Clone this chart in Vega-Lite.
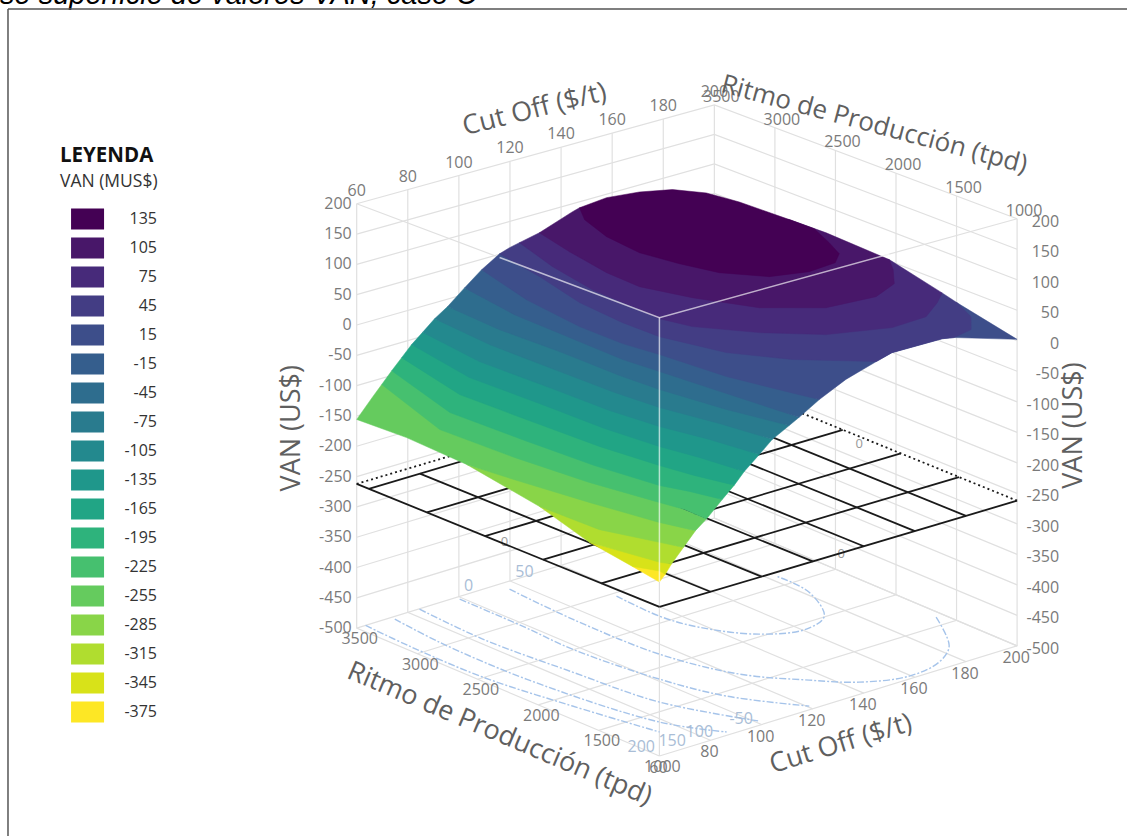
{
"$schema":"https://vega.github.io/schema/vega-lite/v6.json",
"width":1128,"height":837,"padding":0,
"autosize":{"type":"fit","contains":"padding"},
"background":"white",
"config":{"view":{"stroke":null},"text":{"font":"Open Sans"}},
"data":{"values":[
{"set":"note","cutoff":60,"ritmo":3500,"van":200},
{"set":"grid","g":"v200","o":1,"cutoff":60,"ritmo":3500,"van":200},{"set":"grid","g":"v200","o":2,"cutoff":200,"ritmo":3500,"van":200},{"set":"grid","g":"v200","o":3,"cutoff":200,"ritmo":1000,"van":200},
{"set":"grid","g":"v150","o":1,"cutoff":60,"ritmo":3500,"van":150},{"set":"grid","g":"v150","o":2,"cutoff":200,"ritmo":3500,"van":150},{"set":"grid","g":"v150","o":3,"cutoff":200,"ritmo":1000,"van":150},
{"set":"grid","g":"v100","o":1,"cutoff":60,"ritmo":3500,"van":100},{"set":"grid","g":"v100","o":2,"cutoff":200,"ritmo":3500,"van":100},{"set":"grid","g":"v100","o":3,"cutoff":200,"ritmo":1000,"van":100},
{"set":"grid","g":"v50","o":1,"cutoff":60,"ritmo":3500,"van":50},{"set":"grid","g":"v50","o":2,"cutoff":200,"ritmo":3500,"van":50},{"set":"grid","g":"v50","o":3,"cutoff":200,"ritmo":1000,"van":50},
{"set":"grid","g":"v0","o":1,"cutoff":60,"ritmo":3500,"van":0},{"set":"grid","g":"v0","o":2,"cutoff":200,"ritmo":3500,"van":0},{"set":"grid","g":"v0","o":3,"cutoff":200,"ritmo":1000,"van":0},
{"set":"grid","g":"v-50","o":1,"cutoff":60,"ritmo":3500,"van":-50},{"set":"grid","g":"v-50","o":2,"cutoff":200,"ritmo":3500,"van":-50},{"set":"grid","g":"v-50","o":3,"cutoff":200,"ritmo":1000,"van":-50},
{"set":"grid","g":"v-100","o":1,"cutoff":60,"ritmo":3500,"van":-100},{"set":"grid","g":"v-100","o":2,"cutoff":200,"ritmo":3500,"van":-100},{"set":"grid","g":"v-100","o":3,"cutoff":200,"ritmo":1000,"van":-100},
{"set":"grid","g":"v-150","o":1,"cutoff":60,"ritmo":3500,"van":-150},{"set":"grid","g":"v-150","o":2,"cutoff":200,"ritmo":3500,"van":-150},{"set":"grid","g":"v-150","o":3,"cutoff":200,"ritmo":1000,"van":-150},
{"set":"grid","g":"v-200","o":1,"cutoff":60,"ritmo":3500,"van":-200},{"set":"grid","g":"v-200","o":2,"cutoff":200,"ritmo":3500,"van":-200},{"set":"grid","g":"v-200","o":3,"cutoff":200,"ritmo":1000,"van":-200},
{"set":"grid","g":"v-250","o":1,"cutoff":60,"ritmo":3500,"van":-250},{"set":"grid","g":"v-250","o":2,"cutoff":200,"ritmo":3500,"van":-250},{"set":"grid","g":"v-250","o":3,"cutoff":200,"ritmo":1000,"van":-250},
{"set":"grid","g":"v-300","o":1,"cutoff":60,"ritmo":3500,"van":-300},{"set":"grid","g":"v-300","o":2,"cutoff":200,"ritmo":3500,"van":-300},{"set":"grid","g":"v-300","o":3,"cutoff":200,"ritmo":1000,"van":-300},
{"set":"grid","g":"v-350","o":1,"cutoff":60,"ritmo":3500,"van":-350},{"set":"grid","g":"v-350","o":2,"cutoff":200,"ritmo":3500,"van":-350},{"set":"grid","g":"v-350","o":3,"cutoff":200,"ritmo":1000,"van":-350},
{"set":"grid","g":"v-400","o":1,"cutoff":60,"ritmo":3500,"van":-400},{"set":"grid","g":"v-400","o":2,"cutoff":200,"ritmo":3500,"van":-400},{"set":"grid","g":"v-400","o":3,"cutoff":200,"ritmo":1000,"van":-400},
{"set":"grid","g":"v-450","o":1,"cutoff":60,"ritmo":3500,"van":-450},{"set":"grid","g":"v-450","o":2,"cutoff":200,"ritmo":3500,"van":-450},{"set":"grid","g":"v-450","o":3,"cutoff":200,"ritmo":1000,"van":-450},
{"set":"grid","g":"v-500","o":1,"cutoff":60,"ritmo":3500,"van":-500},{"set":"grid","g":"v-500","o":2,"cutoff":200,"ritmo":3500,"van":-500},{"set":"grid","g":"v-500","o":3,"cutoff":200,"ritmo":1000,"van":-500},
{"set":"grid","g":"c60","o":1,"cutoff":60,"ritmo":3500,"van":200},{"set":"grid","g":"c60","o":2,"cutoff":60,"ritmo":3500,"van":-500},{"set":"grid","g":"c60","o":3,"cutoff":60,"ritmo":1000,"van":-500},
{"set":"grid","g":"c80","o":1,"cutoff":80,"ritmo":3500,"van":200},{"set":"grid","g":"c80","o":2,"cutoff":80,"ritmo":3500,"van":-500},{"set":"grid","g":"c80","o":3,"cutoff":80,"ritmo":1000,"van":-500},
{"set":"grid","g":"c100","o":1,"cutoff":100,"ritmo":3500,"van":200},{"set":"grid","g":"c100","o":2,"cutoff":100,"ritmo":3500,"van":-500},{"set":"grid","g":"c100","o":3,"cutoff":100,"ritmo":1000,"van":-500},
{"set":"grid","g":"c120","o":1,"cutoff":120,"ritmo":3500,"van":200},{"set":"grid","g":"c120","o":2,"cutoff":120,"ritmo":3500,"van":-500},{"set":"grid","g":"c120","o":3,"cutoff":120,"ritmo":1000,"van":-500},
{"set":"grid","g":"c140","o":1,"cutoff":140,"ritmo":3500,"van":200},{"set":"grid","g":"c140","o":2,"cutoff":140,"ritmo":3500,"van":-500},{"set":"grid","g":"c140","o":3,"cutoff":140,"ritmo":1000,"van":-500},
{"set":"grid","g":"c160","o":1,"cutoff":160,"ritmo":3500,"van":200},{"set":"grid","g":"c160","o":2,"cutoff":160,"ritmo":3500,"van":-500},{"set":"grid","g":"c160","o":3,"cutoff":160,"ritmo":1000,"van":-500},
{"set":"grid","g":"c180","o":1,"cutoff":180,"ritmo":3500,"van":200},{"set":"grid","g":"c180","o":2,"cutoff":180,"ritmo":3500,"van":-500},{"set":"grid","g":"c180","o":3,"cutoff":180,"ritmo":1000,"van":-500},
{"set":"grid","g":"c200","o":1,"cutoff":200,"ritmo":3500,"van":200},{"set":"grid","g":"c200","o":2,"cutoff":200,"ritmo":3500,"van":-500},{"set":"grid","g":"c200","o":3,"cutoff":200,"ritmo":1000,"van":-500},
{"set":"grid","g":"r3000","o":1,"cutoff":200,"ritmo":3000,"van":200},{"set":"grid","g":"r3000","o":2,"cutoff":200,"ritmo":3000,"van":-500},{"set":"grid","g":"r3000","o":3,"cutoff":60,"ritmo":3000,"van":-500},
{"set":"grid","g":"r2500","o":1,"cutoff":200,"ritmo":2500,"van":200},{"set":"grid","g":"r2500","o":2,"cutoff":200,"ritmo":2500,"van":-500},{"set":"grid","g":"r2500","o":3,"cutoff":60,"ritmo":2500,"van":-500},
{"set":"grid","g":"r2000","o":1,"cutoff":200,"ritmo":2000,"van":200},{"set":"grid","g":"r2000","o":2,"cutoff":200,"ritmo":2000,"van":-500},{"set":"grid","g":"r2000","o":3,"cutoff":60,"ritmo":2000,"van":-500},
{"set":"grid","g":"r1500","o":1,"cutoff":200,"ritmo":1500,"van":200},{"set":"grid","g":"r1500","o":2,"cutoff":200,"ritmo":1500,"van":-500},{"set":"grid","g":"r1500","o":3,"cutoff":60,"ritmo":1500,"van":-500},
{"set":"grid","g":"r1000","o":1,"cutoff":200,"ritmo":1000,"van":200},{"set":"grid","g":"r1000","o":2,"cutoff":200,"ritmo":1000,"van":-500},{"set":"grid","g":"r1000","o":3,"cutoff":60,"ritmo":1000,"van":-500},
{"set":"grid","g":"f1","o":1,"cutoff":60,"ritmo":3500,"van":200},{"set":"grid","g":"f1","o":2,"cutoff":60,"ritmo":1000,"van":200},{"set":"grid","g":"f1","o":3,"cutoff":200,"ritmo":1000,"van":200},
{"set":"grid","g":"f2","o":1,"cutoff":60,"ritmo":1000,"van":200},{"set":"grid","g":"f2","o":2,"cutoff":60,"ritmo":1000,"van":-500},
{"set":"front","g":"a","o":1,"cutoff":60,"ritmo":2320,"van":200},{"set":"front","g":"a","o":2,"cutoff":60,"ritmo":1000,"van":200},{"set":"front","g":"a","o":3,"cutoff":150,"ritmo":1000,"van":200},
{"set":"front","g":"b","o":1,"cutoff":60,"ritmo":1000,"van":200},{"set":"front","g":"b","o":2,"cutoff":60,"ritmo":1000,"van":-222},
{"set":"blue","g":"A","o":1,"cutoff":136,"ritmo":2958,"van":-500},{"set":"blue","g":"A","o":2,"cutoff":135,"ritmo":2582,"van":-500},{"set":"blue","g":"A","o":3,"cutoff":138,"ritmo":2319,"van":-500},{"set":"blue","g":"A","o":4,"cutoff":147.9,"ritmo":2031,"van":-500},{"set":"blue","g":"A","o":5,"cutoff":161.3,"ritmo":1924,"van":-500},{"set":"blue","g":"A","o":6,"cutoff":172.3,"ritmo":2008,"van":-500},{"set":"blue","g":"A","o":7,"cutoff":181.7,"ritmo":2331,"van":-500},{"set":"blue","g":"A","o":8,"cutoff":182.9,"ritmo":2627,"van":-500},
{"set":"blue","g":"B","o":1,"cutoff":115.5,"ritmo":3409,"van":-500},{"set":"blue","g":"B","o":2,"cutoff":113.7,"ritmo":2851,"van":-500},{"set":"blue","g":"B","o":3,"cutoff":114.6,"ritmo":2153,"van":-500},{"set":"blue","g":"B","o":4,"cutoff":122,"ritmo":1649,"van":-500},{"set":"blue","g":"B","o":5,"cutoff":134.6,"ritmo":1337,"van":-500},{"set":"blue","g":"B","o":6,"cutoff":144.8,"ritmo":1140,"van":-500},{"set":"blue","g":"B","o":7,"cutoff":159.4,"ritmo":1034,"van":-500},{"set":"blue","g":"B","o":8,"cutoff":173.6,"ritmo":1088,"van":-500},{"set":"blue","g":"B","o":9,"cutoff":184.5,"ritmo":1234,"van":-500},{"set":"blue","g":"B","o":10,"cutoff":197.1,"ritmo":1608,"van":-500},
{"set":"blue","g":"C","o":1,"cutoff":98.9,"ritmo":3470,"van":-500},{"set":"blue","g":"C","o":2,"cutoff":98.6,"ritmo":2945,"van":-500},{"set":"blue","g":"C","o":3,"cutoff":97.6,"ritmo":2512,"van":-500},{"set":"blue","g":"C","o":4,"cutoff":101.2,"ritmo":1870,"van":-500},{"set":"blue","g":"C","o":5,"cutoff":107.3,"ritmo":1445,"van":-500},{"set":"blue","g":"C","o":6,"cutoff":120.7,"ritmo":1043,"van":-500},
{"set":"blue","g":"D","o":1,"cutoff":84.4,"ritmo":3496,"van":-500},{"set":"blue","g":"D","o":2,"cutoff":82.7,"ritmo":2938,"van":-500},{"set":"blue","g":"D","o":3,"cutoff":85.3,"ritmo":2252,"van":-500},{"set":"blue","g":"D","o":4,"cutoff":88.9,"ritmo":1610,"van":-500},{"set":"blue","g":"D","o":5,"cutoff":101.3,"ritmo":1048,"van":-500},
{"set":"blue","g":"E","o":1,"cutoff":73.5,"ritmo":3470,"van":-500},{"set":"blue","g":"E","o":2,"cutoff":71.2,"ritmo":3053,"van":-500},{"set":"blue","g":"E","o":3,"cutoff":71.1,"ritmo":2333,"van":-500},{"set":"blue","g":"E","o":4,"cutoff":78.2,"ritmo":1384,"van":-500},{"set":"blue","g":"E","o":5,"cutoff":88.1,"ritmo":1038,"van":-500},
{"set":"blue","g":"F","o":1,"cutoff":63.5,"ritmo":3500,"van":-500},{"set":"blue","g":"F","o":2,"cutoff":62.3,"ritmo":3113,"van":-500},{"set":"blue","g":"F","o":3,"cutoff":62.3,"ritmo":2509,"van":-500},{"set":"blue","g":"F","o":4,"cutoff":67.1,"ritmo":1868,"van":-500},{"set":"blue","g":"F","o":5,"cutoff":72.9,"ritmo":1271,"van":-500},
{"set":"black","g":"r1000","o":1,"cutoff":60,"ritmo":1000,"van":-262},{"set":"black","g":"r1000","o":2,"cutoff":200,"ritmo":1000,"van":-262},
{"set":"black","g":"r1480","o":1,"cutoff":60,"ritmo":1480,"van":-262},{"set":"black","g":"r1480","o":2,"cutoff":200,"ritmo":1480,"van":-262},
{"set":"black","g":"r1960","o":1,"cutoff":60,"ritmo":1960,"van":-262},{"set":"black","g":"r1960","o":2,"cutoff":200,"ritmo":1960,"van":-262},
{"set":"black","g":"r2440","o":1,"cutoff":60,"ritmo":2440,"van":-262},{"set":"black","g":"r2440","o":2,"cutoff":200,"ritmo":2440,"van":-262},
{"set":"black","g":"r2920","o":1,"cutoff":60,"ritmo":2920,"van":-262},{"set":"black","g":"r2920","o":2,"cutoff":200,"ritmo":2920,"van":-262},
{"set":"black","g":"r3400","o":1,"cutoff":60,"ritmo":3400,"van":-262},{"set":"black","g":"r3400","o":2,"cutoff":200,"ritmo":3400,"van":-262},
{"set":"black","g":"c60","o":1,"cutoff":60,"ritmo":1000,"van":-262},{"set":"black","g":"c60","o":2,"cutoff":60,"ritmo":3500,"van":-262},
{"set":"black","g":"c80","o":1,"cutoff":80,"ritmo":1000,"van":-262},{"set":"black","g":"c80","o":2,"cutoff":80,"ritmo":3400,"van":-262},
{"set":"black","g":"c100","o":1,"cutoff":100,"ritmo":1000,"van":-262},{"set":"black","g":"c100","o":2,"cutoff":100,"ritmo":3400,"van":-262},
{"set":"black","g":"c120","o":1,"cutoff":120,"ritmo":1000,"van":-262},{"set":"black","g":"c120","o":2,"cutoff":120,"ritmo":3400,"van":-262},
{"set":"black","g":"c140","o":1,"cutoff":140,"ritmo":1000,"van":-262},{"set":"black","g":"c140","o":2,"cutoff":140,"ritmo":3400,"van":-262},
{"set":"black","g":"c160","o":1,"cutoff":160,"ritmo":1000,"van":-262},{"set":"black","g":"c160","o":2,"cutoff":160,"ritmo":3400,"van":-262},
{"set":"black","g":"c180","o":1,"cutoff":180,"ritmo":1000,"van":-262},{"set":"black","g":"c180","o":2,"cutoff":180,"ritmo":3400,"van":-262},
{"set":"dotted","g":"c200","o":1,"cutoff":200,"ritmo":1000,"van":-262},{"set":"dotted","g":"c200","o":2,"cutoff":200,"ritmo":3500,"van":-262},
{"set":"dotted","g":"r3500","o":1,"cutoff":60,"ritmo":3500,"van":-262},{"set":"dotted","g":"r3500","o":2,"cutoff":200,"ritmo":3500,"van":-262},
{"set":"surf","g":-375,"o":1,"cutoff":60,"ritmo":1223,"van":-225},{"set":"surf","g":-375,"o":2,"cutoff":60,"ritmo":1077,"van":-194},{"set":"surf","g":-375,"o":3,"cutoff":62.3,"ritmo":1000,"van":-224},{"set":"surf","g":-375,"o":4,"cutoff":60,"ritmo":1000,"van":-234},
{"set":"surf","g":-345,"o":1,"cutoff":60,"ritmo":1578,"van":-212},{"set":"surf","g":-345,"o":2,"cutoff":64.7,"ritmo":1000,"van":-210},{"set":"surf","g":-345,"o":3,"cutoff":62.3,"ritmo":1000,"van":-224},{"set":"surf","g":-345,"o":4,"cutoff":61.9,"ritmo":1040,"van":-221},{"set":"surf","g":-345,"o":5,"cutoff":60,"ritmo":1223,"van":-225},
{"set":"surf","g":-315,"o":1,"cutoff":60,"ritmo":1990,"van":-184},{"set":"surf","g":-315,"o":2,"cutoff":69.4,"ritmo":1000,"van":-188},{"set":"surf","g":-315,"o":3,"cutoff":64.7,"ritmo":1000,"van":-210},{"set":"surf","g":-315,"o":4,"cutoff":62.4,"ritmo":1050,"van":-208},{"set":"surf","g":-315,"o":5,"cutoff":60,"ritmo":1578,"van":-212},
{"set":"surf","g":-285,"o":1,"cutoff":60,"ritmo":2592,"van":-160},{"set":"surf","g":-285,"o":2,"cutoff":74.1,"ritmo":1000,"van":-166},{"set":"surf","g":-285,"o":3,"cutoff":69.4,"ritmo":1000,"van":-188},{"set":"surf","g":-285,"o":4,"cutoff":61.9,"ritmo":1039,"van":-174},{"set":"surf","g":-285,"o":5,"cutoff":60,"ritmo":1495,"van":-185},{"set":"surf","g":-285,"o":6,"cutoff":60,"ritmo":1990,"van":-184},
{"set":"surf","g":-255,"o":1,"cutoff":60,"ritmo":3500,"van":-154},{"set":"surf","g":-255,"o":2,"cutoff":66.3,"ritmo":3500,"van":-124},{"set":"surf","g":-255,"o":3,"cutoff":69.8,"ritmo":3500,"van":-108},{"set":"surf","g":-255,"o":4,"cutoff":78.4,"ritmo":1000,"van":-152},{"set":"surf","g":-255,"o":5,"cutoff":74.1,"ritmo":1000,"van":-166},{"set":"surf","g":-255,"o":6,"cutoff":66.5,"ritmo":1138,"van":-154},{"set":"surf","g":-255,"o":7,"cutoff":62.7,"ritmo":1636,"van":-154},{"set":"surf","g":-255,"o":8,"cutoff":60,"ritmo":2155,"van":-155},{"set":"surf","g":-255,"o":9,"cutoff":60,"ritmo":2592,"van":-160},{"set":"surf","g":-255,"o":10,"cutoff":60,"ritmo":3088,"van":-153},
{"set":"surf","g":-225,"o":1,"cutoff":69.8,"ritmo":3500,"van":-108},{"set":"surf","g":-225,"o":2,"cutoff":73.7,"ritmo":3500,"van":-90},{"set":"surf","g":-225,"o":3,"cutoff":84.6,"ritmo":1000,"van":-127},{"set":"surf","g":-225,"o":4,"cutoff":78.4,"ritmo":1000,"van":-152},{"set":"surf","g":-225,"o":5,"cutoff":72.3,"ritmo":1053,"van":-133},{"set":"surf","g":-225,"o":6,"cutoff":70.8,"ritmo":1229,"van":-133},{"set":"surf","g":-225,"o":7,"cutoff":67,"ritmo":1727,"van":-133},{"set":"surf","g":-225,"o":8,"cutoff":65.1,"ritmo":2305,"van":-133},{"set":"surf","g":-225,"o":9,"cutoff":65,"ritmo":2920,"van":-133},
{"set":"surf","g":-195,"o":1,"cutoff":73.7,"ritmo":3500,"van":-90},{"set":"surf","g":-195,"o":2,"cutoff":77.6,"ritmo":3500,"van":-73},{"set":"surf","g":-195,"o":3,"cutoff":89.3,"ritmo":1000,"van":-109},{"set":"surf","g":-195,"o":4,"cutoff":84.6,"ritmo":1000,"van":-127},{"set":"surf","g":-195,"o":5,"cutoff":76.9,"ritmo":1109,"van":-113},{"set":"surf","g":-195,"o":6,"cutoff":73.7,"ritmo":1289,"van":-113},{"set":"surf","g":-195,"o":7,"cutoff":71,"ritmo":1769,"van":-113},{"set":"surf","g":-195,"o":8,"cutoff":70.3,"ritmo":2330,"van":-113},{"set":"surf","g":-195,"o":9,"cutoff":70.2,"ritmo":2946,"van":-113},
{"set":"surf","g":-165,"o":1,"cutoff":77.6,"ritmo":3500,"van":-73},{"set":"surf","g":-165,"o":2,"cutoff":81.5,"ritmo":3500,"van":-56},{"set":"surf","g":-165,"o":3,"cutoff":93.2,"ritmo":1000,"van":-91},{"set":"surf","g":-165,"o":4,"cutoff":89.3,"ritmo":1000,"van":-109},{"set":"surf","g":-165,"o":5,"cutoff":79.9,"ritmo":1132,"van":-92},{"set":"surf","g":-165,"o":6,"cutoff":78,"ritmo":1380,"van":-92},{"set":"surf","g":-165,"o":7,"cutoff":75.9,"ritmo":1831,"van":-92},{"set":"surf","g":-165,"o":8,"cutoff":75.6,"ritmo":2361,"van":-92},{"set":"surf","g":-165,"o":9,"cutoff":75.5,"ritmo":2977,"van":-92},
{"set":"surf","g":-135,"o":1,"cutoff":81.5,"ritmo":3500,"van":-56},{"set":"surf","g":-135,"o":2,"cutoff":85.8,"ritmo":3500,"van":-41},{"set":"surf","g":-135,"o":3,"cutoff":99.1,"ritmo":1000,"van":-70},{"set":"surf","g":-135,"o":4,"cutoff":93.2,"ritmo":1000,"van":-91},{"set":"surf","g":-135,"o":5,"cutoff":84.5,"ritmo":1187,"van":-72},{"set":"surf","g":-135,"o":6,"cutoff":82.1,"ritmo":1466,"van":-72},{"set":"surf","g":-135,"o":7,"cutoff":80.5,"ritmo":1886,"van":-72},{"set":"surf","g":-135,"o":8,"cutoff":80.8,"ritmo":2387,"van":-72},{"set":"surf","g":-135,"o":9,"cutoff":80.6,"ritmo":3003,"van":-72},
{"set":"surf","g":-105,"o":1,"cutoff":85.8,"ritmo":3500,"van":-41},{"set":"surf","g":-105,"o":2,"cutoff":90.5,"ritmo":3500,"van":-24},{"set":"surf","g":-105,"o":3,"cutoff":104.2,"ritmo":1000,"van":-51},{"set":"surf","g":-105,"o":4,"cutoff":99.1,"ritmo":1000,"van":-70},{"set":"surf","g":-105,"o":5,"cutoff":90.3,"ritmo":1226,"van":-52},{"set":"surf","g":-105,"o":6,"cutoff":86.8,"ritmo":1565,"van":-52},{"set":"surf","g":-105,"o":7,"cutoff":85.1,"ritmo":1942,"van":-52},{"set":"surf","g":-105,"o":8,"cutoff":85.3,"ritmo":2442,"van":-52},{"set":"surf","g":-105,"o":9,"cutoff":85.1,"ritmo":3016,"van":-52},
{"set":"surf","g":-75,"o":1,"cutoff":90.5,"ritmo":3500,"van":-24},{"set":"surf","g":-75,"o":2,"cutoff":95.6,"ritmo":3500,"van":-10},{"set":"surf","g":-75,"o":3,"cutoff":110.8,"ritmo":1000,"van":-36},{"set":"surf","g":-75,"o":4,"cutoff":104.2,"ritmo":1000,"van":-51},{"set":"surf","g":-75,"o":5,"cutoff":94.4,"ritmo":1231,"van":-31},{"set":"surf","g":-75,"o":6,"cutoff":90.5,"ritmo":1643,"van":-31},{"set":"surf","g":-75,"o":7,"cutoff":89.4,"ritmo":1990,"van":-31},{"set":"surf","g":-75,"o":8,"cutoff":89.6,"ritmo":2491,"van":-31},{"set":"surf","g":-75,"o":9,"cutoff":89.9,"ritmo":3034,"van":-31},
{"set":"surf","g":-45,"o":1,"cutoff":95.6,"ritmo":3500,"van":-10},{"set":"surf","g":-45,"o":2,"cutoff":102.2,"ritmo":3500,"van":13},{"set":"surf","g":-45,"o":3,"cutoff":114.7,"ritmo":1000,"van":-27},{"set":"surf","g":-45,"o":4,"cutoff":110.8,"ritmo":1000,"van":-36},{"set":"surf","g":-45,"o":5,"cutoff":97.1,"ritmo":1230,"van":-11},{"set":"surf","g":-45,"o":6,"cutoff":94,"ritmo":1717,"van":-11},{"set":"surf","g":-45,"o":7,"cutoff":93.4,"ritmo":2034,"van":-11},{"set":"surf","g":-45,"o":8,"cutoff":94.2,"ritmo":2547,"van":-11},{"set":"surf","g":-45,"o":9,"cutoff":93.8,"ritmo":3034,"van":-11},
{"set":"surf","g":-15,"o":1,"cutoff":102.2,"ritmo":3500,"van":13},{"set":"surf","g":-15,"o":2,"cutoff":108.9,"ritmo":3500,"van":35},{"set":"surf","g":-15,"o":3,"cutoff":122.6,"ritmo":1000,"van":-7},{"set":"surf","g":-15,"o":4,"cutoff":114.7,"ritmo":1000,"van":-27},{"set":"surf","g":-15,"o":5,"cutoff":99,"ritmo":1270,"van":10},{"set":"surf","g":-15,"o":6,"cutoff":97.1,"ritmo":1782,"van":10},{"set":"surf","g":-15,"o":7,"cutoff":96,"ritmo":2063,"van":10},{"set":"surf","g":-15,"o":8,"cutoff":97.2,"ritmo":2527,"van":10},{"set":"surf","g":-15,"o":9,"cutoff":98.5,"ritmo":3010,"van":10},
{"set":"surf","g":15,"o":1,"cutoff":108.9,"ritmo":3500,"van":35},{"set":"surf","g":15,"o":2,"cutoff":115.9,"ritmo":3500,"van":53},{"set":"surf","g":15,"o":3,"cutoff":200,"ritmo":1495,"van":25},{"set":"surf","g":15,"o":4,"cutoff":200,"ritmo":1000,"van":2},{"set":"surf","g":15,"o":5,"cutoff":175.4,"ritmo":1000,"van":33.5},{"set":"surf","g":15,"o":6,"cutoff":170.7,"ritmo":1000,"van":37},{"set":"surf","g":15,"o":7,"cutoff":151,"ritmo":1000,"van":37},{"set":"surf","g":15,"o":8,"cutoff":144.9,"ritmo":1000,"van":29.5},{"set":"surf","g":15,"o":9,"cutoff":133,"ritmo":1000,"van":14},{"set":"surf","g":15,"o":10,"cutoff":122.6,"ritmo":1000,"van":-7},{"set":"surf","g":15,"o":11,"cutoff":116.7,"ritmo":1100,"van":3},{"set":"surf","g":15,"o":12,"cutoff":101.9,"ritmo":1331,"van":30},{"set":"surf","g":15,"o":13,"cutoff":100,"ritmo":1843,"van":30},{"set":"surf","g":15,"o":14,"cutoff":98.2,"ritmo":2111,"van":30},{"set":"surf","g":15,"o":15,"cutoff":98.7,"ritmo":2477,"van":30},{"set":"surf","g":15,"o":16,"cutoff":102.9,"ritmo":3003,"van":30},
{"set":"surf","g":45,"o":1,"cutoff":115.9,"ritmo":3500,"van":53},{"set":"surf","g":45,"o":2,"cutoff":119.8,"ritmo":3500,"van":58.5},{"set":"surf","g":45,"o":3,"cutoff":123.7,"ritmo":3500,"van":62.3},{"set":"surf","g":45,"o":4,"cutoff":200,"ritmo":1619,"van":32},{"set":"surf","g":45,"o":5,"cutoff":200,"ritmo":1495,"van":25},{"set":"surf","g":45,"o":6,"cutoff":185.7,"ritmo":1079,"van":50},{"set":"surf","g":45,"o":7,"cutoff":182,"ritmo":1000,"van":39},{"set":"surf","g":45,"o":8,"cutoff":175.4,"ritmo":1000,"van":33.5},{"set":"surf","g":45,"o":9,"cutoff":170.7,"ritmo":1000,"van":37},{"set":"surf","g":45,"o":10,"cutoff":151,"ritmo":1000,"van":37},{"set":"surf","g":45,"o":11,"cutoff":144.9,"ritmo":1000,"van":29.5},{"set":"surf","g":45,"o":12,"cutoff":119.7,"ritmo":1161,"van":50},{"set":"surf","g":45,"o":13,"cutoff":108.9,"ritmo":1480,"van":50},{"set":"surf","g":45,"o":14,"cutoff":103.4,"ritmo":1916,"van":50},{"set":"surf","g":45,"o":15,"cutoff":103.5,"ritmo":2222,"van":50},{"set":"surf","g":45,"o":16,"cutoff":105.8,"ritmo":2626,"van":50},{"set":"surf","g":45,"o":17,"cutoff":112.4,"ritmo":3094,"van":50},
{"set":"surf","g":75,"o":1,"cutoff":123.7,"ritmo":3500,"van":62.3},{"set":"surf","g":75,"o":2,"cutoff":131.5,"ritmo":3500,"van":69.5},{"set":"surf","g":75,"o":3,"cutoff":200,"ritmo":2056,"van":54},{"set":"surf","g":75,"o":4,"cutoff":200,"ritmo":1619,"van":32},{"set":"surf","g":75,"o":5,"cutoff":178.8,"ritmo":1212,"van":71},{"set":"surf","g":75,"o":6,"cutoff":167.9,"ritmo":1074,"van":71},{"set":"surf","g":75,"o":7,"cutoff":153.7,"ritmo":1054,"van":71},{"set":"surf","g":75,"o":8,"cutoff":134.6,"ritmo":1196,"van":71},{"set":"surf","g":75,"o":9,"cutoff":120.7,"ritmo":1455,"van":71},{"set":"surf","g":75,"o":10,"cutoff":109.2,"ritmo":1766,"van":71},{"set":"surf","g":75,"o":11,"cutoff":106.5,"ritmo":1982,"van":71},{"set":"surf","g":75,"o":12,"cutoff":107.6,"ritmo":2228,"van":71},{"set":"surf","g":75,"o":13,"cutoff":108.8,"ritmo":2583,"van":71},{"set":"surf","g":75,"o":14,"cutoff":113.6,"ritmo":3013,"van":71},
{"set":"surf","g":105,"o":1,"cutoff":131.5,"ritmo":3500,"van":69.5},{"set":"surf","g":105,"o":2,"cutoff":144.5,"ritmo":3500,"van":89},{"set":"surf","g":105,"o":3,"cutoff":147.2,"ritmo":3500,"van":92.3},{"set":"surf","g":105,"o":4,"cutoff":200,"ritmo":2881,"van":58},{"set":"surf","g":105,"o":5,"cutoff":200,"ritmo":2576,"van":59},{"set":"surf","g":105,"o":6,"cutoff":200,"ritmo":2056,"van":54},{"set":"surf","g":105,"o":7,"cutoff":181.3,"ritmo":1629,"van":91},{"set":"surf","g":105,"o":8,"cutoff":173.2,"ritmo":1449,"van":91},{"set":"surf","g":105,"o":9,"cutoff":161.3,"ritmo":1348,"van":91},{"set":"surf","g":105,"o":10,"cutoff":143.4,"ritmo":1383,"van":91},{"set":"surf","g":105,"o":11,"cutoff":128.3,"ritmo":1617,"van":91},{"set":"surf","g":105,"o":12,"cutoff":119.2,"ritmo":1978,"van":91},{"set":"surf","g":105,"o":13,"cutoff":113.9,"ritmo":2302,"van":91},{"set":"surf","g":105,"o":14,"cutoff":114.9,"ritmo":2594,"van":91},{"set":"surf","g":105,"o":15,"cutoff":119.1,"ritmo":2990,"van":91},
{"set":"surf","g":135,"o":1,"cutoff":147.2,"ritmo":3500,"van":92.3},{"set":"surf","g":135,"o":2,"cutoff":157.8,"ritmo":3500,"van":96.6},{"set":"surf","g":135,"o":3,"cutoff":170.7,"ritmo":3500,"van":91},{"set":"surf","g":135,"o":4,"cutoff":183.6,"ritmo":3500,"van":80},{"set":"surf","g":135,"o":5,"cutoff":196.9,"ritmo":3500,"van":59},{"set":"surf","g":135,"o":6,"cutoff":200,"ritmo":3294,"van":56},{"set":"surf","g":135,"o":7,"cutoff":200,"ritmo":2881,"van":58},{"set":"surf","g":135,"o":8,"cutoff":180.4,"ritmo":2262,"van":112},{"set":"surf","g":135,"o":9,"cutoff":175.4,"ritmo":2033,"van":112},{"set":"surf","g":135,"o":10,"cutoff":171.1,"ritmo":1859,"van":112},{"set":"surf","g":135,"o":11,"cutoff":164.8,"ritmo":1759,"van":112},{"set":"surf","g":135,"o":12,"cutoff":153.5,"ritmo":1736,"van":112},{"set":"surf","g":135,"o":13,"cutoff":141.5,"ritmo":1813,"van":112},{"set":"surf","g":135,"o":14,"cutoff":132.6,"ritmo":2038,"van":112},{"set":"surf","g":135,"o":15,"cutoff":129,"ritmo":2291,"van":112},{"set":"surf","g":135,"o":16,"cutoff":126.6,"ritmo":2570,"van":112},{"set":"surf","g":135,"o":17,"cutoff":128.8,"ritmo":2888,"van":112},{"set":"surf","g":135,"o":18,"cutoff":134,"ritmo":3179,"van":112},
{"set":"vanL","label":"200","cutoff":60,"ritmo":3500,"van":200},{"set":"vanL","label":"150","cutoff":60,"ritmo":3500,"van":150},{"set":"vanL","label":"100","cutoff":60,"ritmo":3500,"van":100},{"set":"vanL","label":"50","cutoff":60,"ritmo":3500,"van":50},{"set":"vanL","label":"0","cutoff":60,"ritmo":3500,"van":0},{"set":"vanL","label":"-50","cutoff":60,"ritmo":3500,"van":-50},{"set":"vanL","label":"-100","cutoff":60,"ritmo":3500,"van":-100},{"set":"vanL","label":"-150","cutoff":60,"ritmo":3500,"van":-150},{"set":"vanL","label":"-200","cutoff":60,"ritmo":3500,"van":-200},{"set":"vanL","label":"-250","cutoff":60,"ritmo":3500,"van":-250},{"set":"vanL","label":"-300","cutoff":60,"ritmo":3500,"van":-300},{"set":"vanL","label":"-350","cutoff":60,"ritmo":3500,"van":-350},{"set":"vanL","label":"-400","cutoff":60,"ritmo":3500,"van":-400},{"set":"vanL","label":"-450","cutoff":60,"ritmo":3500,"van":-450},{"set":"vanL","label":"-500","cutoff":60,"ritmo":3500,"van":-500},
{"set":"vanR","label":"200","cutoff":200,"ritmo":1000,"van":200},{"set":"vanR","label":"150","cutoff":200,"ritmo":1000,"van":150},{"set":"vanR","label":"100","cutoff":200,"ritmo":1000,"van":100},{"set":"vanR","label":"50","cutoff":200,"ritmo":1000,"van":50},{"set":"vanR","label":"0","cutoff":200,"ritmo":1000,"van":0},{"set":"vanR","label":"-50","cutoff":200,"ritmo":1000,"van":-50},{"set":"vanR","label":"-100","cutoff":200,"ritmo":1000,"van":-100},{"set":"vanR","label":"-150","cutoff":200,"ritmo":1000,"van":-150},{"set":"vanR","label":"-200","cutoff":200,"ritmo":1000,"van":-200},{"set":"vanR","label":"-250","cutoff":200,"ritmo":1000,"van":-250},{"set":"vanR","label":"-300","cutoff":200,"ritmo":1000,"van":-300},{"set":"vanR","label":"-350","cutoff":200,"ritmo":1000,"van":-350},{"set":"vanR","label":"-400","cutoff":200,"ritmo":1000,"van":-400},{"set":"vanR","label":"-450","cutoff":200,"ritmo":1000,"van":-450},{"set":"vanR","label":"-500","cutoff":200,"ritmo":1000,"van":-500},
{"set":"cutT","label":"60","cutoff":60,"ritmo":3500,"van":200},{"set":"cutT","label":"80","cutoff":80,"ritmo":3500,"van":200},{"set":"cutT","label":"100","cutoff":100,"ritmo":3500,"van":200},{"set":"cutT","label":"120","cutoff":120,"ritmo":3500,"van":200},{"set":"cutT","label":"140","cutoff":140,"ritmo":3500,"van":200},{"set":"cutT","label":"160","cutoff":160,"ritmo":3500,"van":200},{"set":"cutT","label":"180","cutoff":180,"ritmo":3500,"van":200},{"set":"cutT","label":"200","cutoff":200,"ritmo":3500,"van":200},
{"set":"ritT","label":"3500","cutoff":200,"ritmo":3500,"van":200},{"set":"ritT","label":"3000","cutoff":200,"ritmo":3000,"van":200},{"set":"ritT","label":"2500","cutoff":200,"ritmo":2500,"van":200},{"set":"ritT","label":"2000","cutoff":200,"ritmo":2000,"van":200},{"set":"ritT","label":"1500","cutoff":200,"ritmo":1500,"van":200},{"set":"ritT","label":"1000","cutoff":200,"ritmo":1000,"van":200},
{"set":"cutB","label":"60","cutoff":60,"ritmo":1000,"van":-500},{"set":"cutB","label":"80","cutoff":80,"ritmo":1000,"van":-500},{"set":"cutB","label":"100","cutoff":100,"ritmo":1000,"van":-500},{"set":"cutB","label":"120","cutoff":120,"ritmo":1000,"van":-500},{"set":"cutB","label":"140","cutoff":140,"ritmo":1000,"van":-500},{"set":"cutB","label":"160","cutoff":160,"ritmo":1000,"van":-500},{"set":"cutB","label":"180","cutoff":180,"ritmo":1000,"van":-500},{"set":"cutB","label":"200","cutoff":200,"ritmo":1000,"van":-500},
{"set":"ritB","label":"3500","cutoff":60,"ritmo":3500,"van":-500},{"set":"ritB","label":"3000","cutoff":60,"ritmo":3000,"van":-500},{"set":"ritB","label":"2500","cutoff":60,"ritmo":2500,"van":-500},{"set":"ritB","label":"2000","cutoff":60,"ritmo":2000,"van":-500},{"set":"ritB","label":"1500","cutoff":60,"ritmo":1500,"van":-500},{"set":"ritB","label":"1000","cutoff":60,"ritmo":1000,"van":-500},
{"set":"blueL","label":"0","cutoff":107.8,"ritmo":3585,"van":-500},{"set":"blueL","label":"50","cutoff":128,"ritmo":3549,"van":-500},{"set":"blueL","label":"200","cutoff":60.7,"ritmo":1165,"van":-500},{"set":"blueL","label":"150","cutoff":70.9,"ritmo":1125,"van":-500},{"set":"blueL","label":"100","cutoff":81.9,"ritmo":1132,"van":-500},{"set":"blueL","label":"-50","cutoff":98.3,"ritmo":1133,"van":-500},
{"set":"gray0","label":"0","cutoff":60.9,"ritmo":2298,"van":-262},{"set":"gray0","label":"0","cutoff":195.6,"ritmo":2210,"van":-262},{"set":"gray0","label":"0","cutoff":130.4,"ritmo":984,"van":-262},
{"set":"tCutT","label":"Cut Off ($/t)","cutoff":129.6,"ritmo":3500,"van":275},
{"set":"tRitT","label":"Ritmo de Producción (tpd)","cutoff":200,"ritmo":2180,"van":267},
{"set":"tCutB","label":"Cut Off ($/t)","cutoff":131,"ritmo":1000,"van":-571},
{"set":"tRitB","label":"Ritmo de Producción (tpd)","cutoff":60,"ritmo":2320,"van":-574},
{"set":"tVan","label":"VAN (US$)","cutoff":34.6,"ritmo":3500,"van":-139},
{"set":"tVan","label":"VAN (US$)","cutoff":200,"ritmo":530,"van":-102}
]},
"transform":[
{"calculate":"(datum.ritmo-1000)/2500","as":"rn"},
{"calculate":"(datum.cutoff-60)/140","as":"cn"},
{"calculate":"datum.set=='surf'?0.61:(0.627-0.02*datum.rn-0.016*datum.cn)","as":"k"},
{"calculate":"660-303*datum.rn+358*datum.cn","as":"px"},
{"calculate":"318+(200-datum.van)*datum.k-114*datum.rn-99*datum.cn","as":"py"}
],
"encoding":{
"x":{"field":"px","type":"quantitative","scale":{"domain":[0,1128],"nice":false,"zero":false},"axis":null},
"y":{"field":"py","type":"quantitative","scale":{"domain":[0,837],"nice":false,"zero":false,"reverse":true},"axis":null}
},
"layer":[
{"transform":[{"filter":"datum.set=='grid'"}],"mark":{"type":"line","stroke":"#e0e0e0","strokeWidth":1.2},"encoding":{"detail":{"field":"g"},"order":{"field":"o","type":"quantitative"}}},
{"transform":[{"filter":"datum.set=='blue'"}],"mark":{"type":"line","stroke":"#a6c4ea","strokeWidth":1.4,"strokeDash":[7,2,2,2],"interpolate":"catmull-rom"},"encoding":{"detail":{"field":"g"},"order":{"field":"o","type":"quantitative"}}},
{"transform":[{"filter":"datum.set=='blueL'"}],"mark":{"type":"text","color":"#a9bdd6","fontSize":16},"encoding":{"text":{"field":"label"}}},
{"transform":[{"filter":"datum.set=='gray0'"}],"mark":{"type":"text","color":"#999999","fontSize":13},"encoding":{"text":{"field":"label"}}},
{"transform":[{"filter":"datum.set=='black'"}],"mark":{"type":"line","stroke":"#1a1a1a","strokeWidth":1.8},"encoding":{"detail":{"field":"g"},"order":{"field":"o","type":"quantitative"}}},
{"transform":[{"filter":"datum.set=='dotted'"}],"mark":{"type":"line","stroke":"#1a1a1a","strokeWidth":1.8,"strokeDash":[2,3]},"encoding":{"detail":{"field":"g"},"order":{"field":"o","type":"quantitative"}}},
{"transform":[{"filter":"datum.set=='surf'"}],"mark":{"type":"line","interpolate":"linear-closed","strokeWidth":0.5},
"encoding":{
"order":{"field":"o","type":"quantitative"},
"fill":{"field":"g","type":"ordinal","scale":{"domain":[135,105,75,45,15,-15,-45,-75,-105,-135,-165,-195,-225,-255,-285,-315,-345,-375],"range":["#440154","#481769","#472a7a","#433d84","#3d4e8a","#355e8d","#2e6d8e","#297b8e","#23898e","#1f978b","#21a585","#2eb37c","#46c06f","#65cb5e","#89d548","#b0dd2f","#d8e219","#fde725"]},
"legend":{"orient":"none","legendX":60,"legendY":146,"title":"LEYENDA","titleFont":"Open Sans","titleFontSize":20.5,"titleFontWeight":"bold","titleColor":"#111111","titlePadding":38,"symbolType":"M-0.33,-0.64H1.67V0.64H-0.33Z","symbolSize":1089,"symbolStrokeWidth":0,"rowPadding":-4,"labelFont":"Open Sans","labelFontSize":16,"labelColor":"#333333","labelAlign":"right","labelOffset":64,"clipHeight":29}},
"stroke":{"field":"g","type":"ordinal","scale":{"domain":[135,105,75,45,15,-15,-45,-75,-105,-135,-165,-195,-225,-255,-285,-315,-345,-375],"range":["#440154","#481769","#472a7a","#433d84","#3d4e8a","#355e8d","#2e6d8e","#297b8e","#23898e","#1f978b","#21a585","#2eb37c","#46c06f","#65cb5e","#89d548","#b0dd2f","#d8e219","#fde725"]},"legend":null}
}},
{"transform":[{"filter":"datum.set=='front'"}],"mark":{"type":"line","stroke":"#ffffff","strokeOpacity":0.65,"strokeWidth":1.5},"encoding":{"detail":{"field":"g"},"order":{"field":"o","type":"quantitative"}}},
{"transform":[{"filter":"datum.set=='vanL'"}],"mark":{"type":"text","color":"#7a7a7a","fontSize":16,"align":"right","dx":-5},"encoding":{"text":{"field":"label"}}},
{"transform":[{"filter":"datum.set=='vanR'"}],"mark":{"type":"text","color":"#7a7a7a","fontSize":16,"align":"right","dx":42,"dy":3},"encoding":{"text":{"field":"label"}}},
{"transform":[{"filter":"datum.set=='cutT'"}],"mark":{"type":"text","color":"#7a7a7a","fontSize":16,"dy":-13},"encoding":{"text":{"field":"label"}}},
{"transform":[{"filter":"datum.set=='ritT'"}],"mark":{"type":"text","color":"#7a7a7a","fontSize":16,"dx":7,"dy":-8},"encoding":{"text":{"field":"label"}}},
{"transform":[{"filter":"datum.set=='cutB'"}],"mark":{"type":"text","color":"#7a7a7a","fontSize":16,"dx":-1,"dy":12},"encoding":{"text":{"field":"label"}}},
{"transform":[{"filter":"datum.set=='ritB'"}],"mark":{"type":"text","color":"#7a7a7a","fontSize":16,"dx":3,"dy":11},"encoding":{"text":{"field":"label"}}},
{"transform":[{"filter":"datum.set=='tCutT'"}],"mark":{"type":"text","color":"#5f5f5f","fontSize":27,"angle":346},"encoding":{"text":{"field":"label"}}},
{"transform":[{"filter":"datum.set=='tRitT'"}],"mark":{"type":"text","color":"#5f5f5f","fontSize":26,"angle":15},"encoding":{"text":{"field":"label"}}},
{"transform":[{"filter":"datum.set=='tCutB'"}],"mark":{"type":"text","color":"#5f5f5f","fontSize":27,"angle":343},"encoding":{"text":{"field":"label"}}},
{"transform":[{"filter":"datum.set=='tRitB'"}],"mark":{"type":"text","color":"#5f5f5f","fontSize":27,"angle":23},"encoding":{"text":{"field":"label"}}},
{"transform":[{"filter":"datum.set=='tVan'"}],"mark":{"type":"text","color":"#5f5f5f","fontSize":27,"angle":270},"encoding":{"text":{"field":"label"}}},
{"transform":[{"filter":"datum.set=='note'"}],"mark":{"type":"text","color":"#333333","fontSize":17.5,"align":"left","baseline":"middle","text":"VAN (MUS$)"},"encoding":{"x":{"datum":60},"y":{"datum":182}}},
{"transform":[{"filter":"datum.set=='note'"}],"mark":{"type":"text","color":"#000000","font":"Liberation Sans","fontStyle":"italic","fontSize":29,"align":"left","baseline":"alphabetic","clip":true,"text":"se superficie de valores VAN, caso C"},"encoding":{"x":{"datum":0},"y":{"datum":4}}},
{"transform":[{"filter":"datum.set=='note'"}],"mark":{"type":"rule","stroke":"#555555","strokeWidth":1.5},"encoding":{"x":{"datum":8},"y":{"datum":9},"y2":{"datum":837}}},
{"transform":[{"filter":"datum.set=='note'"}],"mark":{"type":"rule","stroke":"#555555","strokeWidth":1.5},"encoding":{"x":{"datum":8},"x2":{"datum":1128},"y":{"datum":9}}}
]
}
